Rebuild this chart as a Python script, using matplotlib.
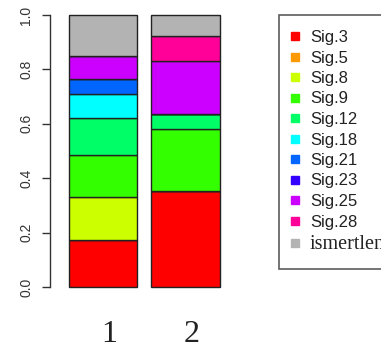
import numpy as np
import matplotlib
matplotlib.use("Agg")
import matplotlib.pyplot as plt
from matplotlib.lines import Line2D
import matplotlib.transforms as mtransforms

# signature names and bar colours (R rainbow(10) + grey for unknown)
signatures = ["Sig.3", "Sig.5", "Sig.8", "Sig.9", "Sig.12", "Sig.18",
              "Sig.21", "Sig.23", "Sig.25", "Sig.28", "ismertlen"]
colors = ["#FF0000", "#FF9900", "#CCFF00", "#33FF00", "#00FF66", "#00FFFF",
          "#0066FF", "#3300FF", "#CC00FF", "#FF0099", "#B3B3B3"]

samples = ["1", "2"]
# fractions per sample, same order as signatures
sample1 = [0.173, 0.0, 0.158, 0.155, 0.134, 0.088, 0.057, 0.0, 0.084, 0.0, 0.151]
sample2 = [0.354, 0.0, 0.0, 0.227, 0.055, 0.0, 0.0, 0.0, 0.195, 0.093, 0.076]

W, H = 381, 349
fig = plt.figure(figsize=(W / 100, H / 100), dpi=100)
ax = fig.add_axes([50 / W, 62 / H, 180 / W, 272 / H])

data = np.array([sample1, sample2])
x = np.arange(len(samples))
bottom = np.zeros(len(samples))
for k, name in enumerate(signatures):
    ax.bar(x, data[:, k], bottom=bottom, width=0.83, color=colors[k],
           edgecolor="#222222", linewidth=1.0, clip_on=False)
    bottom += data[:, k]

ax.set_xlim(-0.642, 1.539)
ax.set_ylim(0, 1)

for s in ["top", "right", "bottom"]:
    ax.spines[s].set_visible(False)
ax.spines["left"].set_color("#333333")
ax.spines["left"].set_linewidth(1.0)

ax.set_yticks([0, 0.2, 0.4, 0.6, 0.8, 1.0])
ax.set_yticklabels(["0.0", "0.2", "0.4", "0.6", "0.8", "1.0"],
                   rotation=90, va="center", fontsize=10,
                   family="Liberation Sans", color="#333333")
ax.tick_params(axis="y", length=6, width=1.0, color="#333333", pad=6)

ax.set_xticks(x)
ax.set_xticklabels(samples, fontsize=23, family="Liberation Serif",
                   color="#222222")
ax.tick_params(axis="x", length=0, pad=24)
offset = mtransforms.ScaledTranslation(6 / 100, 0, fig.dpi_scale_trans)
for lab in ax.get_xticklabels():
    lab.set_transform(lab.get_transform() + offset)

handles = [Line2D([], [], marker="s", linestyle="none", markersize=5.5,
                  markerfacecolor=c, markeredgecolor=c) for c in colors]
leg = fig.legend(handles, signatures, loc="upper left",
                 bbox_to_anchor=(279 / W, 1 - 15 / H),
                 prop={"family": "Liberation Sans", "size": 12},
                 frameon=True, fancybox=False, borderpad=0.9,
                 labelspacing=0.33, handlelength=0.1, handletextpad=0.85,
                 borderaxespad=0)
leg.get_frame().set_edgecolor("#333333")
leg.get_frame().set_linewidth(1.2)
for t in leg.get_texts():
    t.set_color("#222222")
leg.get_texts()[-1].set_fontfamily("Liberation Serif")
leg.get_texts()[-1].set_fontsize(14.5)

fig.savefig("out.png", dpi=100)
